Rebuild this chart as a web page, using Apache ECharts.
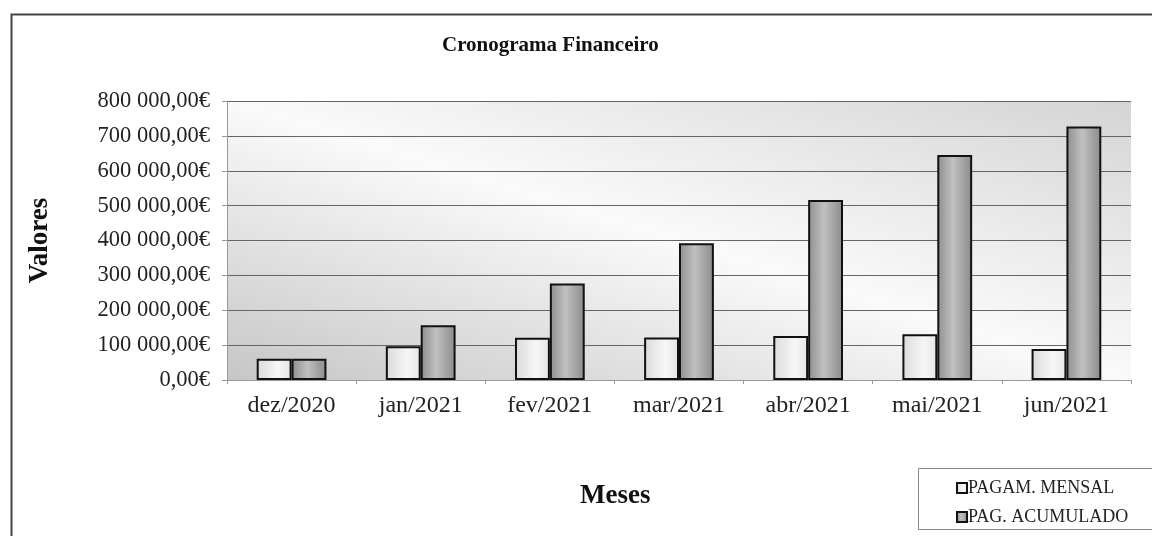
<!DOCTYPE html>
<html><head><meta charset="utf-8">
<script src="https://cdn.jsdelivr.net/npm/echarts@6/dist/echarts.min.js"></script>
<style>html,body{margin:0;padding:0;background:#fff}#c{width:1152px;height:536px}</style>
</head><body><div id="c"></div>
<script>
const categories = ['dez/2020','jan/2021','fev/2021','mar/2021','abr/2021','mai/2021','jun/2021'];
const pagamMensal = [61000, 97000, 121000, 122000, 126000, 131000, 89000];
const pagAcumulado = [61000, 157000, 277000, 392000, 516000, 645000, 727000];
const seriesNames = ['PAGAM. MENSAL', 'PAG. ACUMULADO'];
const yTicks = {min: 0, max: 800000, interval: 100000};

const serif = '"Liberation Serif", "DejaVu Serif", serif';
function fmt(v){
  const s = String(Math.round(v)).replace(/\B(?=(\d{3})+(?!\d))/g, ' ');
  return s + ',00€';
}
const chart = echarts.init(document.getElementById('c'), null, {renderer:'canvas'});
chart.setOption({
  backgroundColor:'#fff',
  animation:false,
  textStyle:{fontFamily:serif, color:'#222'},
  title:{text:'Cronograma Financeiro', left:437, top:30,
    textStyle:{fontFamily:serif, fontSize:21, fontWeight:'bold', color:'#111'}},
  graphic:[
    {type:'rect', left:9, top:12, shape:{width:1170, height:600}, z:-10,
      style:{fill:'none', stroke:'#444', lineWidth:2}},
    {type:'text', left:580, top:483, style:{text:'Meses', font:'bold 27px '+serif, fill:'#111'}},
    {type:'rect', left:918, top:468, shape:{width:260, height:61},
      style:{fill:'#fff', stroke:'#888', lineWidth:1}, z:1}
  ],
  legend:{orient:'vertical', left:951, top:474, itemGap:11, itemWidth:10, itemHeight:10,
    icon:'rect', z:5,
    textStyle:{fontFamily:serif, fontSize:18, color:'#222', padding:[0,0,0,-4]},
    data:seriesNames},
  grid:{left:227, right:21, top:101, bottom:156, show:true, borderWidth:0,
    backgroundColor:{type:'linear', x:0.412, y:1.414, x2:0.587, y2:-0.414, colorStops:[
      {offset:0, color:'#c6c6c6'},{offset:0.5, color:'#fafafa'},{offset:1, color:'#d4d4d4'}]}},
  xAxis:{type:'category', data:categories,
    axisLine:{lineStyle:{color:'#999', width:1}},
    axisTick:{show:true, alignWithLabel:false, length:4, lineStyle:{color:'#999'}},
    axisLabel:{fontFamily:serif, fontSize:24, color:'#222', margin:14}},
  yAxis:{type:'value', min:yTicks.min, max:yTicks.max, interval:yTicks.interval,
    name:'Valores', nameLocation:'middle', nameGap:173, nameRotate:90,
    nameTextStyle:{fontFamily:serif, fontSize:27, fontWeight:'bold', color:'#111'},
    axisLine:{show:true, lineStyle:{color:'#999', width:1}},
    axisTick:{show:true, length:5, lineStyle:{color:'#999'}},
    axisLabel:{fontFamily:serif, fontSize:22.5, color:'#222', margin:17, formatter:fmt},
    splitLine:{lineStyle:{color:'#666', width:1}}},
  series:[
    {name:seriesNames[0], type:'bar', data:pagamMensal, barGap:'0%', barCategoryGap:'46%',
      itemStyle:{borderColor:'#111', borderWidth:2,
        color:{type:'linear', x:0, y:0, x2:1, y2:0, colorStops:[
          {offset:0, color:'#dadada'},{offset:0.6, color:'#f6f6f6'},{offset:1, color:'#e6e6e6'}]}}},
    {name:seriesNames[1], type:'bar', data:pagAcumulado,
      itemStyle:{borderColor:'#111', borderWidth:2,
        color:{type:'linear', x:0, y:0, x2:1, y2:0, colorStops:[
          {offset:0, color:'#8e8e8e'},{offset:0.45, color:'#c0c0c0'},{offset:1, color:'#8a8a8a'}]}}}
  ]
});
</script></body></html>
